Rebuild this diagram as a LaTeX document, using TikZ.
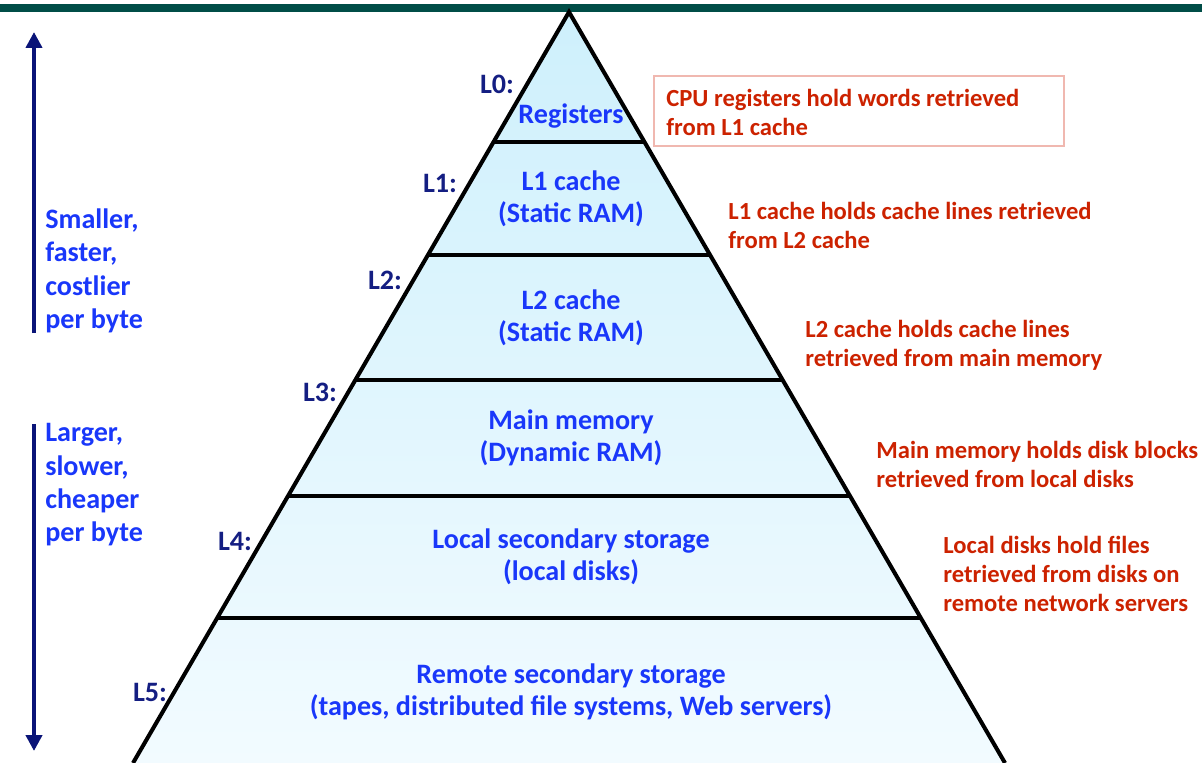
\documentclass[tikz,border=0pt]{standalone}
\usepackage{fontspec}
\setmainfont{Carlito}
\usetikzlibrary{positioning, calc, arrows.meta}

\definecolor{barteal}{RGB}{0,77,71}
\definecolor{levelblue}{RGB}{25,55,250}
\definecolor{levelnavy}{RGB}{20,30,130}
\definecolor{arrownavy}{RGB}{10,20,120}
\definecolor{notered}{RGB}{204,34,0}
\definecolor{noteframe}{RGB}{240,184,176}
\definecolor{pyrtop}{RGB}{206,240,252}
\definecolor{pyrmid}{RGB}{216,243,252}
\definecolor{pyrbot}{RGB}{242,251,255}

\tikzset{
  layertext/.style={text=levelblue, font=\fontsize{16}{18.5}\selectfont\bfseries,
    align=center, inner sep=0pt},
  levellabel/.style={text=levelnavy, font=\fontsize{16}{18.5}\selectfont\bfseries,
    inner sep=0pt},
  notetext/.style={text=notered, font=\fontsize{14}{16.5}\selectfont\bfseries,
    align=left, anchor=west, inner sep=0pt},
  sidetext/.style={text=levelblue, font=\fontsize{16}{19}\selectfont\bfseries,
    align=left, anchor=west, inner sep=0pt},
  trendarrow/.style={draw=arrownavy, line width=2.8pt,
    -{Triangle[width=9pt, length=9pt]}},
  edge/.style={line width=2.3pt, black},
}

\begin{document}
\begin{tikzpicture}[x=0.02cm, y=-0.02cm]

    \useasboundingbox (0,0) rectangle (1202,763);

    % top bar
    \fill[barteal] (0,4) rectangle (1202,12.5);

    % pyramid
    \coordinate (apex) at (569,12);
    \coordinate (bl) at (133,763);
    \coordinate (br) at (1005,763);

    \shade[top color=pyrtop, middle color=pyrmid, bottom color=pyrbot]
      (apex) -- (bl) -- (br) -- cycle;

    \foreach \t in {0.1731, 0.3236, 0.4900, 0.6445, 0.8069}
      \draw[edge] ($(apex)!\t!(bl)$) -- ($(apex)!\t!(br)$);

    \draw[edge, line join=miter] (bl) -- (apex) -- (br);

    % layers
    \node[layertext] (reg) at (571,116) {Registers};
    \node[layertext] (l1) at (571,199) {L1 cache\\(Static RAM)};
    \node[layertext] (l2) at (571,318) {L2 cache\\(Static RAM)};
    \node[layertext] (mem) at (571,438) {Main memory\\(Dynamic RAM)};
    \node[layertext] (disk) at (571,557) {Local secondary storage\\(local disks)};
    \node[layertext] (remote) at (571,692)
      {Remote secondary storage\\(tapes, distributed file systems, Web servers)};

    % level labels
    \node[levellabel] (lab0) at (497,84) {L0:};
    \node[levellabel] (lab1) at (440,183) {L1:};
    \node[levellabel] (lab2) at (385,280) {L2:};
    \node[levellabel] (lab3) at (320,392) {L3:};
    \node[levellabel] (lab4) at (235,541) {L4:};
    \node[levellabel] (lab5) at (150,692) {L5:};

    % notes
    \node[draw=noteframe, line width=0.9pt, minimum width=8.2cm,
      minimum height=1.4cm] (regbox) at (859,111) {};
    \node[notetext] (regnote) at (666,112)
      {CPU registers hold words retrieved\\from L1 cache};
    \node[notetext] (l1note) at (728,225)
      {L1 cache holds cache lines retrieved\\from L2 cache};
    \node[notetext] (l2note) at (805,345)
      {L2 cache holds cache lines\\retrieved from main memory};
    \node[notetext] (memnote) at (876,464)
      {Main memory holds disk blocks\\retrieved from local disks};
    \node[notetext] (disknote) at (943,574)
      {Local disks hold files\\retrieved from disks on\\remote network servers};

    % trends
    \coordinate (upfrom) at (34,333);
    \coordinate (upto) at (34,32);
    \coordinate (downfrom) at (34,424);
    \coordinate (downto) at (34,751);
    \draw[trendarrow] (upfrom) -- (upto);
    \draw[trendarrow] (downfrom) -- (downto);

    \node[sidetext] (small) at (45,271)
      {Smaller,\\faster,\\costlier\\per byte};
    \node[sidetext] (large) at (45,485)
      {Larger,\\slower,\\cheaper\\per byte};

\end{tikzpicture}
\end{document}
